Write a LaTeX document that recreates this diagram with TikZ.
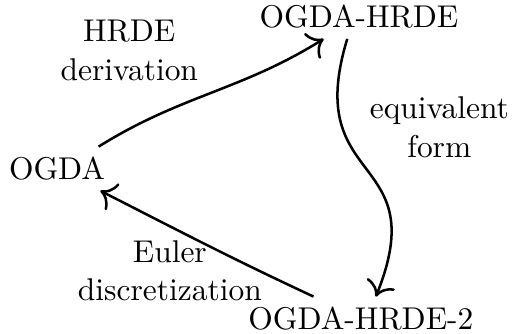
\documentclass[tikz,border=0pt]{standalone}
\usepackage{tikz}
\usetikzlibrary{arrows.meta}
\tikzset{
  every node/.style = {font=\fontsize{10.6}{13.1}\selectfont},
  alg/.style = {inner sep=3.33pt},
  lbl/.style = {align=center, inner sep=2pt},
  fl/.style  = {-{To[length=1.7mm]}, line width=0.85pt}
}

\begin{document}
\begin{tikzpicture}
  \useasboundingbox (0,0) rectangle (6.06,3.95);
  \node[alg] (og)  at (0.675,1.953) {OGDA};
  \node[alg] (hr)  at (4.249,3.751) {OGDA-HRDE};
  \node[alg] (hr2) at (4.272,0.178) {OGDA-HRDE-2};

  \draw[fl] (og.28) to[out=32, in=212] (hr);
  \draw[fl] (hr.242) to[out=-107, in=68, looseness=1.55] (hr2.56);
  \draw[fl] (hr2) to[out=155, in=-27] (og);

  \node[lbl] (lhr) at (1.53,3.35) {HRDE\\derivation};
  \node[lbl] (leq) at (5.2,2.44) {equivalent\\form};
  \node[lbl] (leu) at (2.01,0.745) {Euler\\discretization};
\end{tikzpicture}
\end{document}
